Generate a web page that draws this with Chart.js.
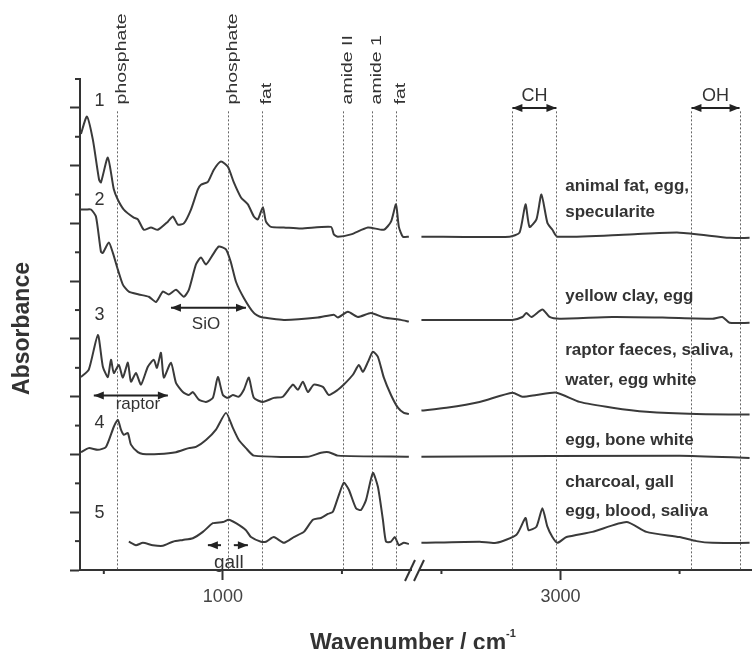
<!DOCTYPE html>
<html>
<head>
<meta charset="utf-8">
<title>FTIR spectra</title>
<script src="https://cdn.jsdelivr.net/npm/chart.js@4.4.1/dist/chart.umd.min.js"></script>
<style>
  body { margin: 0; background: #fff; overflow: hidden; }
  #wrap { position: relative; width: 753px; height: 649px; }
  #wrap canvas { position: absolute; left: 0; top: 0; }
  #xtitle {
    position: absolute; left: 213px; width: 400px; top: 624px;
    text-align: center; font: bold 23px 'Liberation Sans', Arial, sans-serif; color: #333;
    line-height: 26px;
  }
  #xtitle sup { font-size: 11px; position: relative; top: -4px; }
</style>
</head>
<body>
<div id="wrap">
  <canvas id="left" width="753" height="649"></canvas>
  <canvas id="right" width="753" height="649"></canvas>
  <div id="xtitle">Wavenumber / cm<sup>-1</sup></div>
</div>
<script>
// Spectrum 1: animal fat, egg, specularite
const s1LeftWn = [404, 429, 454, 480, 488, 517, 542, 559, 584, 626, 643, 668, 698, 727, 769, 790, 811, 836, 866, 895,
  908, 937, 962, 992, 1021, 1046, 1076, 1105, 1130, 1147, 1168, 1181, 1202, 1256, 1328, 1454, 1466, 1483, 1538, 1609,
  1676, 1706, 1727, 1739, 1756, 1781];
const s1LeftAbs = [7.55, 7.85, 7.45, 6.76, 6.71, 7.14, 6.59, 6.41, 6.24, 6.10, 6.07, 5.89, 5.93, 5.89, 6.03, 6.12, 5.98, 6.00, 6.24, 6.59,
  6.67, 6.72, 6.93, 7.07, 6.98, 6.71, 6.45, 6.33, 6.12, 6.07, 6.28, 6.03, 5.94, 5.93, 5.91, 5.94, 5.81, 5.77, 5.81, 5.93,
  5.89, 6.03, 6.33, 5.94, 5.77, 5.77];
const s1RightWn = [2416, 2786, 2828, 2853, 2870, 2899, 2920, 2945, 2966, 2987, 3290, 3500, 3710, 3794];
const s1RightAbs = [5.77, 5.77, 5.84, 6.33, 5.94, 6.07, 6.50, 6.01, 5.89, 5.77, 5.81, 5.84, 5.75, 5.75];

// Spectrum 2: yellow clay, egg
const s2LeftWn = [404, 425, 446, 467, 488, 496, 521, 538, 559, 580, 605, 647, 689, 719, 748, 773, 803, 836, 857, 887,
  908, 929, 958, 983, 1013, 1034, 1055, 1088, 1130, 1160, 1256, 1399, 1466, 1483, 1525, 1567, 1622, 1676, 1748, 1781];
const s2LeftAbs = [6.24, 6.24, 6.24, 6.12, 5.51, 5.49, 5.67, 5.49, 5.20, 4.94, 4.82, 4.77, 4.73, 4.64, 4.82, 4.77, 4.85, 4.73, 4.85, 5.29,
  5.41, 5.29, 5.46, 5.60, 5.55, 5.32, 4.99, 4.71, 4.45, 4.38, 4.33, 4.37, 4.42, 4.37, 4.47, 4.38, 4.45, 4.37, 4.33, 4.30];
const s2RightWn = [2416, 2798, 2840, 2857, 2878, 2924, 2954, 2996, 3218, 3428, 3638, 3680, 3710, 3794];
const s2RightAbs = [4.33, 4.33, 4.38, 4.45, 4.38, 4.51, 4.38, 4.35, 4.38, 4.37, 4.35, 4.38, 4.28, 4.28];

// Spectrum 3: raptor faeces, saliva, water, egg white
const s3LeftWn = [404, 437, 475, 496, 517, 530, 542, 563, 580, 601, 614, 635, 656, 685, 710, 723, 740, 752, 782, 803,
  832, 857, 874, 899, 929, 958, 979, 1000, 1021, 1042, 1067, 1088, 1109, 1130, 1168, 1214, 1252, 1294, 1315, 1336,
  1357, 1382, 1420, 1445, 1483, 1508, 1546, 1571, 1588, 1609, 1630, 1651, 1676, 1706, 1735, 1760, 1781];
const s3LeftAbs = [3.34, 3.47, 4.07, 3.52, 3.34, 3.64, 3.41, 3.55, 3.33, 3.59, 3.26, 3.41, 3.21, 3.52, 3.64, 3.50, 3.76, 3.33, 3.59, 3.24,
  3.08, 3.03, 3.08, 2.95, 2.91, 2.98, 3.34, 3.03, 2.98, 3.03, 3.00, 3.12, 3.33, 2.98, 2.91, 2.98, 3.00, 3.21, 3.12, 3.26,
  3.08, 3.21, 3.17, 3.03, 3.12, 3.21, 3.38, 3.55, 3.43, 3.60, 3.78, 3.69, 3.33, 3.03, 2.81, 2.72, 2.70];
const s3RightWn = [2416, 2521, 2660, 2798, 2840, 2899, 2983, 3080, 3218, 3361, 3571, 3794];
const s3RightAbs = [2.76, 2.81, 2.91, 3.07, 3.00, 3.03, 3.07, 2.91, 2.81, 2.74, 2.70, 2.69];

// Spectrum 4: egg, bone white
const s4LeftWn = [404, 437, 475, 509, 542, 559, 572, 584, 601, 614, 643, 664, 731, 803, 857, 887, 929, 971, 1013, 1042,
  1067, 1097, 1130, 1357, 1412, 1445, 1483, 1781];
const s4LeftAbs = [2.04, 2.11, 2.08, 2.13, 2.48, 2.60, 2.43, 2.34, 2.37, 2.17, 2.04, 2.01, 2.01, 2.04, 2.11, 2.13, 2.25, 2.43, 2.72, 2.46,
  2.25, 2.11, 1.98, 1.96, 2.03, 2.04, 1.98, 1.96];
const s4RightWn = [2416, 3500, 3794];
const s4RightAbs = [1.96, 1.98, 1.94];

// Spectrum 5: charcoal, gall, egg, blood, saliva
const s5LeftWn = [605, 635, 664, 706, 748, 790, 832, 874, 916, 958, 1000, 1025, 1055, 1097, 1118, 1160, 1181, 1214, 1256, 1298,
  1340, 1378, 1412, 1441, 1462, 1483, 1508, 1529, 1559, 1580, 1601, 1630, 1651, 1672, 1685, 1706, 1722, 1739, 1760, 1781];
const s5LeftAbs = [0.49, 0.43, 0.47, 0.43, 0.42, 0.49, 0.52, 0.55, 0.66, 0.81, 0.83, 0.87, 0.81, 0.69, 0.57, 0.49, 0.49, 0.57, 0.47, 0.57,
  0.66, 0.87, 0.90, 0.97, 1.01, 1.25, 1.51, 1.39, 1.07, 1.04, 1.21, 1.68, 1.44, 0.87, 0.49, 0.49, 0.57, 0.43, 0.47, 0.45];
const s5RightWn = [2416, 2660, 2731, 2815, 2853, 2866, 2899, 2924, 2945, 2966, 2987, 3025, 3134, 3277, 3361, 3500, 3571, 3638, 3794];
const s5RightAbs = [0.47, 0.49, 0.47, 0.61, 0.90, 0.69, 0.75, 1.07, 0.75, 0.57, 0.47, 0.57, 0.66, 0.83, 0.66, 0.57, 0.50, 0.47, 0.47];

// Axis ticks (labelled major ticks / short minor ticks)
const leftTickWn = [1000];
const rightTickWn = [3000];
const leftMinorWn = [500, 1500];
const rightMinorWn = [2500, 3500];
const yMajorTicks = [0, 1, 2, 3, 4, 5, 6, 7, 8];
const yMinorTicks = [0.5, 1.5, 2.5, 3.5, 4.5, 5.5, 6.5, 7.5, 8.5];

// Band markers (dotted lines) and their names
const leftBandWn = [555, 1021, 1164, 1504, 1626, 1727];
const leftBandNames = ['phosphate', 'phosphate', 'fat', 'amide II', 'amide 1', 'fat'];
const rightBandWn = [2798, 2983, 3550, 3752];

// Sample names on the right panel
const sampleLabels = ['animal fat, egg,', 'specularite', 'yellow clay, egg', 'raptor faeces, saliva,',
  'water, egg white', 'egg, bone white', 'charcoal, gall', 'egg, blood, saliva'];
const sampleLabelAbs = [6.64, 6.19, 4.73, 3.81, 3.29, 2.25, 1.52, 1.01];

const traceNumbers = ['1', '2', '3', '4', '5'];
const traceNumberAbs = [8.11, 6.41, 4.42, 2.55, 0.99];

const FONT = "'Liberation Sans', Arial, sans-serif";
const INK = '#333';
const LINE = '#3a3a3a';
const BAND_TOP = 7.94;

function pts(wn, ab) {
  return wn.map((w, i) => ({ x: w, y: ab[i] }));
}

function spectrum(wn, ab) {
  return { data: pts(wn, ab), borderColor: LINE, borderWidth: 2, pointRadius: 0, tension: 0.2, fill: false };
}

function xScale(min, max, tickValues) {
  return {
    type: 'linear', min: min, max: max,
    afterBuildTicks: s => { s.ticks = tickValues.map(v => ({ value: v })); },
    afterFit: s => { s.height = 79; },
    grid: { drawOnChartArea: false, tickLength: 10, tickWidth: 2, tickColor: INK },
    border: { color: INK, width: 2 },
    ticks: {
      autoSkip: false, color: '#444', padding: 6, maxRotation: 0,
      font: { family: FONT, size: 18 },
      callback: v => String(v)
    }
  };
}

function yScale(show) {
  const s = {
    min: 0, max: 8.5, display: show,
    afterBuildTicks: sc => { sc.ticks = yMajorTicks.map(v => ({ value: v })); },
    grid: { drawOnChartArea: false, tickLength: 10, tickWidth: 2, tickColor: INK },
    border: { color: INK, width: 2 },
    ticks: { display: false }
  };
  if (show) s.afterFit = sc => { sc.width = 80; };
  return s;
}

// helpers for the annotation plugins
function dottedLines(chart, positions) {
  const { ctx, scales: { x, y } } = chart;
  ctx.save();
  ctx.strokeStyle = '#666';
  ctx.lineWidth = 1;
  ctx.setLineDash([2, 2]);
  positions.forEach(w => {
    const px = Math.round(x.getPixelForValue(w)) + 0.5;
    ctx.beginPath();
    ctx.moveTo(px, y.getPixelForValue(BAND_TOP));
    ctx.lineTo(px, y.getPixelForValue(0));
    ctx.stroke();
  });
  ctx.restore();
}

function head(ctx, tip, py, dir) {
  ctx.beginPath();
  ctx.moveTo(tip, py);
  ctx.lineTo(tip - dir * 10, py - 4);
  ctx.lineTo(tip - dir * 10, py + 4);
  ctx.closePath();
  ctx.fill();
}

function arrow(chart, from, to, abs, both) {
  const { ctx, scales: { x, y } } = chart;
  const x1 = x.getPixelForValue(from), x2 = x.getPixelForValue(to), py = y.getPixelForValue(abs);
  const dir = x2 > x1 ? 1 : -1;
  ctx.save();
  ctx.strokeStyle = '#222';
  ctx.fillStyle = '#222';
  ctx.lineWidth = 2;
  ctx.beginPath();
  ctx.moveTo(x1, py);
  ctx.lineTo(x2, py);
  ctx.stroke();
  head(ctx, x2, py, dir);
  if (both) head(ctx, x1, py, -dir);
  ctx.restore();
}

function text(chart, str, wn, abs, font, align) {
  const { ctx, scales: { x, y } } = chart;
  ctx.save();
  ctx.font = font;
  ctx.fillStyle = INK;
  ctx.textAlign = align || 'center';
  ctx.textBaseline = 'middle';
  ctx.fillText(str, x.getPixelForValue(wn), y.getPixelForValue(abs));
  ctx.restore();
}

// short minor ticks at the half steps
function minorTicks(chart, xMinor, showY) {
  const { ctx, scales: { x, y }, chartArea } = chart;
  ctx.save();
  ctx.strokeStyle = INK;
  ctx.lineWidth = 2;
  xMinor.forEach(w => {
    const px = x.getPixelForValue(w);
    ctx.beginPath();
    ctx.moveTo(px, chartArea.bottom);
    ctx.lineTo(px, chartArea.bottom + 4);
    ctx.stroke();
  });
  if (showY) {
    yMinorTicks.forEach(v => {
      const py = y.getPixelForValue(v);
      ctx.beginPath();
      ctx.moveTo(chartArea.left - 5, py);
      ctx.lineTo(chartArea.left, py);
      ctx.stroke();
    });
  }
  ctx.restore();
}

const leftDecor = {
  id: 'leftDecor',
  beforeDatasetsDraw(chart) {
    dottedLines(chart, leftBandWn);
  },
  afterDraw(chart) {
    const { ctx, scales: { x, y }, chartArea } = chart;
    minorTicks(chart, leftMinorWn, true);

    // rotated band names
    leftBandWn.forEach((w, i) => {
      ctx.save();
      ctx.translate(x.getPixelForValue(w) + 5, y.getPixelForValue(8.06));
      ctx.rotate(-Math.PI / 2);
      ctx.scale(1.3, 1);
      ctx.font = '15px ' + FONT;
      ctx.fillStyle = INK;
      ctx.textAlign = 'left';
      ctx.textBaseline = 'middle';
      ctx.fillText(leftBandNames[i], 0, 0);
      ctx.restore();
    });

    traceNumbers.forEach((n, i) => text(chart, n, 482, traceNumberAbs[i], '18px ' + FONT));

    arrow(chart, 782, 1097, 4.54, true);
    text(chart, 'SiO', 929, 4.25, '17px ' + FONT);
    arrow(chart, 458, 769, 3.02, true);
    text(chart, 'raptor', 643, 2.86, '17px ' + FONT);
    arrow(chart, 992, 937, 0.43, false);
    arrow(chart, 1046, 1105, 0.43, false);
    text(chart, 'gall', 1025, 0.12, '19px ' + FONT);

    // y axis title
    ctx.save();
    ctx.translate(23, (chartArea.top + chartArea.bottom) / 2 + 4);
    ctx.rotate(-Math.PI / 2);
    ctx.font = 'bold 23px ' + FONT;
    ctx.fillStyle = INK;
    ctx.textAlign = 'center';
    ctx.textBaseline = 'middle';
    ctx.fillText('Absorbance', 0, 0);
    ctx.restore();

    // axis break marks
    ctx.save();
    ctx.strokeStyle = INK;
    ctx.lineWidth = 2;
    [chartArea.right - 6, chartArea.right + 3].forEach(x0 => {
      ctx.beginPath();
      ctx.moveTo(x0, chartArea.bottom + 11);
      ctx.lineTo(x0 + 10, chartArea.bottom - 10);
      ctx.stroke();
    });
    ctx.restore();
  }
};

const rightDecor = {
  id: 'rightDecor',
  beforeDatasetsDraw(chart) {
    dottedLines(chart, rightBandWn);
  },
  afterDraw(chart) {
    minorTicks(chart, rightMinorWn, false);
    arrow(chart, rightBandWn[0], rightBandWn[1], 8.0, true);
    text(chart, 'CH', (rightBandWn[0] + rightBandWn[1]) / 2, 8.2, '18px ' + FONT);
    arrow(chart, rightBandWn[2], rightBandWn[3], 8.0, true);
    text(chart, 'OH', (rightBandWn[2] + rightBandWn[3]) / 2, 8.2, '18px ' + FONT);
    sampleLabels.forEach((s, i) => text(chart, s, 3020, sampleLabelAbs[i], 'bold 17px ' + FONT, 'left'));
  }
};

const common = {
  responsive: false,
  animation: false,
  plugins: { legend: { display: false }, tooltip: { enabled: false } }
};

new Chart(document.getElementById('left'), {
  type: 'line',
  data: {
    datasets: [
      spectrum(s1LeftWn, s1LeftAbs),
      spectrum(s2LeftWn, s2LeftAbs),
      spectrum(s3LeftWn, s3LeftAbs),
      spectrum(s4LeftWn, s4LeftAbs),
      spectrum(s5LeftWn, s5LeftAbs)
    ]
  },
  options: {
    ...common,
    layout: { padding: { left: 0, right: 342, top: 79, bottom: 0 } },
    scales: { x: xScale(400, 1790, leftTickWn), y: yScale(true) }
  },
  plugins: [leftDecor]
});

new Chart(document.getElementById('right'), {
  type: 'line',
  data: {
    datasets: [
      spectrum(s1RightWn, s1RightAbs),
      spectrum(s2RightWn, s2RightAbs),
      spectrum(s3RightWn, s3RightAbs),
      spectrum(s4RightWn, s4RightAbs),
      spectrum(s5RightWn, s5RightAbs)
    ]
  },
  options: {
    ...common,
    layout: { padding: { left: 420, right: 2, top: 79, bottom: 0 } },
    scales: { x: xScale(2410, 3800, rightTickWn), y: yScale(false) }
  },
  plugins: [rightDecor]
});
</script>
</body>
</html>
